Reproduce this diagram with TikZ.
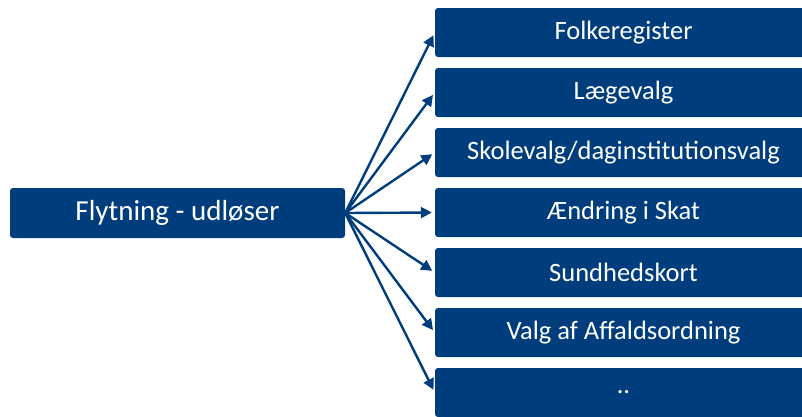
\documentclass[tikz,border=0pt]{standalone}
\usepackage{fontspec}
\setmainfont{Carlito}
\usetikzlibrary{arrows.meta}
\definecolor{boxblue}{RGB}{0,61,125}
\tikzset{
  box/.style={fill=boxblue, rounded corners=3pt, text=white, inner sep=0pt},
  conn/.style={draw=boxblue, line width=2.4pt, -{Triangle[length=11pt,width=11pt]}, shorten >=3pt},
}
\begin{document}
\begin{tikzpicture}[x=1pt,y=-1pt]
\useasboundingbox (0,0) rectangle (802,416);
\begin{scope}
\clip (0,0) rectangle (802,416);
\node[box, minimum width=335pt, minimum height=50pt, font=\fontsize{29}{32}\selectfont] (src) at (177.5,213) {Flytning - udløser};
\foreach \i/\t in {1/Folkeregister,2/Lægevalg,3/{Skolevalg/daginstitutionsvalg},4/Ændring i Skat,5/Sundhedskort,6/Valg af Affaldsordning,7/..}{
  \node[box, minimum width=377pt, minimum height=49pt, font=\fontsize{26.5}{29}\selectfont] (t\i) at (623.5,{32.5+60*(\i-1)}) {\t};
}
\foreach \i in {1,...,7}{
  \draw[conn] (src.east) -- (t\i.west);
}
\end{scope}
\end{tikzpicture}
\end{document}
